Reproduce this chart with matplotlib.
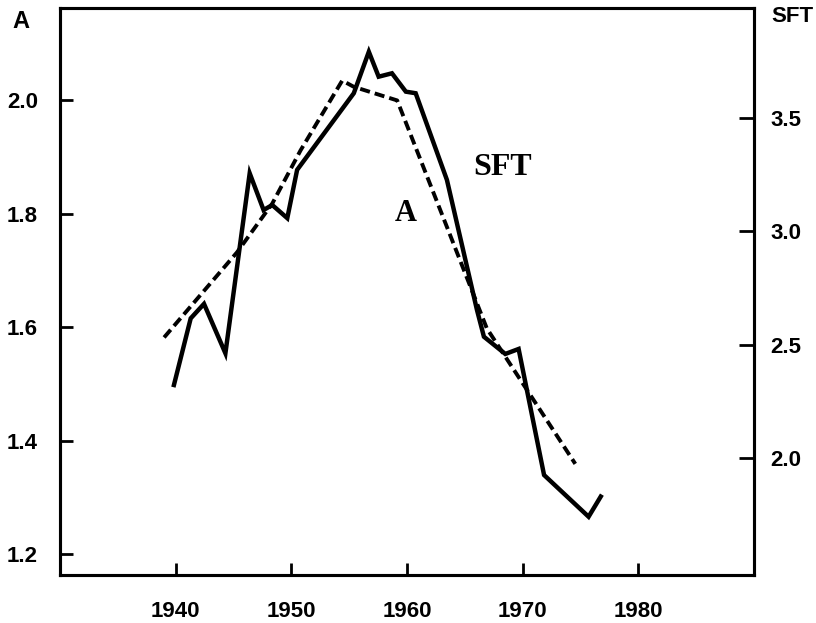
import matplotlib
matplotlib.use('Agg')
import matplotlib.pyplot as plt

# SFT (solid, right axis)
sft_years = [1939.85, 1941.3, 1942.45, 1944.3, 1946.4, 1947.6, 1948.35, 1949.65, 1950.5,
             1955.4, 1956.7, 1957.55, 1958.7, 1959.9, 1960.75, 1963.45, 1966.05, 1966.65,
             1968.5, 1969.65, 1971.85, 1975.7, 1976.75]
sft_vals = [2.322, 2.616, 2.680, 2.462, 3.256, 3.094, 3.116, 3.058, 3.271,
            3.609, 3.792, 3.682, 3.697, 3.616, 3.609, 3.227, 2.653, 2.535,
            2.459, 2.481, 1.925, 1.741, 1.830]

# A (dashed, left axis)
a_years = [1939.0, 1945.3, 1948.35, 1950.8, 1954.4, 1955.4, 1959.15, 1966.9, 1974.55]
a_vals = [1.582, 1.732, 1.818, 1.912, 2.035, 2.024, 2.000, 1.598, 1.359]

x_ticks = [1940, 1950, 1960, 1970, 1980]
a_ticks = [1.2, 1.4, 1.6, 1.8, 2.0]
sft_ticks = [2.0, 2.5, 3.0, 3.5]

plt.rcParams['font.family'] = ['Liberation Sans', 'DejaVu Sans']

fig = plt.figure(figsize=(8.16, 6.23), dpi=100)
ax = fig.add_axes([60/816, 1-575/623, 694/816, 567/623])
ax2 = ax.twinx()

ax.plot(a_years, a_vals, color='black', lw=2.8, dashes=(2.6, 1.3))
ax2.plot(sft_years, sft_vals, color='black', lw=3.2, solid_joinstyle='miter')

ax.set_xlim(1930, 1990)
ax.set_ylim(1.163, 2.163)
ax2.set_ylim(1.484, 3.985)

ax.set_xticks(x_ticks)
ax.set_xticklabels([str(t) for t in x_ticks])
ax.set_yticks(a_ticks)
ax.set_yticklabels([f'{t:.1f}' for t in a_ticks])
ax2.set_yticks(sft_ticks)
ax2.set_yticklabels([f'{t:.1f}' for t in sft_ticks])

for a in (ax, ax2):
    for s in a.spines.values():
        s.set_linewidth(2.2)
ax.tick_params(axis='x', direction='in', length=9, width=2, pad=19, labelsize=16)
ax.tick_params(axis='y', direction='in', length=9, width=2, pad=16, labelsize=16)
ax2.tick_params(axis='y', direction='in', length=11, width=2, pad=12, labelsize=16)
for lab in ax.get_xticklabels() + ax.get_yticklabels() + ax2.get_yticklabels():
    lab.set_fontweight('bold')

fig.text(21/816, 1-21/623, 'A', fontsize=17, fontweight='bold', ha='center', va='center')
fig.text(771/816, 1-16/623, 'SFT', fontsize=16, fontweight='bold', ha='left', va='center')

ax.text(1968.3, 2.0 - (167.5-100)/566.7, 'SFT', family='Liberation Serif', fontsize=23,
        fontweight='bold', ha='center', va='center')
ax.text(1959.9, 2.0 - (213-100)/566.7, 'A', family='Liberation Serif', fontsize=22,
        fontweight='bold', ha='center', va='center')

fig.savefig('out.png', dpi=100)
